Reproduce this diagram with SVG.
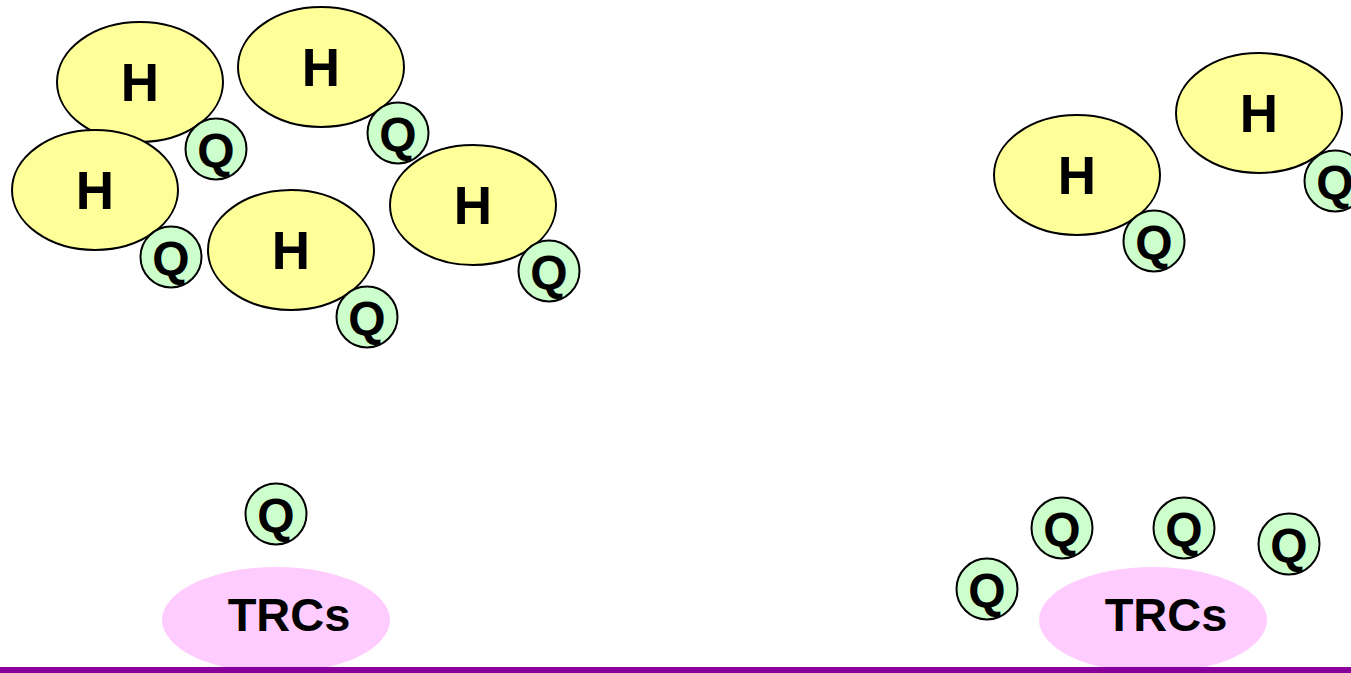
<svg xmlns="http://www.w3.org/2000/svg" width="1351" height="673" viewBox="0 0 1351 673">
<style>
.h{fill:#FFFF99;stroke:#000;stroke-width:2}
.q{fill:#CCFFCC;stroke:#000;stroke-width:2}
.t{fill:#FFCCFF;stroke:none}
.ht{font-family:"Liberation Sans",Arial,sans-serif;font-weight:bold;font-size:53px;text-anchor:middle;fill:#000}
.qt{font-family:"Liberation Sans",Arial,sans-serif;font-weight:bold;font-size:48px;text-anchor:middle;fill:#000}
.tt{font-family:"Liberation Sans",Arial,sans-serif;font-weight:bold;font-size:47px;text-anchor:middle;fill:#000}
</style>
<rect width="1351" height="673" fill="#fff"/>
<g id="h1"><ellipse class="h" cx="140" cy="82" rx="83" ry="60"/><text class="ht" x="140" y="101">H</text></g>
<g id="h2"><ellipse class="h" cx="321" cy="67" rx="83" ry="60"/><text class="ht" x="321" y="86">H</text></g>
<g id="h3"><ellipse class="h" cx="95" cy="190" rx="83" ry="60"/><text class="ht" x="95" y="209">H</text></g>
<g id="h4"><ellipse class="h" cx="291" cy="250" rx="83" ry="60"/><text class="ht" x="291" y="269">H</text></g>
<g id="h5"><ellipse class="h" cx="473" cy="205" rx="83" ry="60"/><text class="ht" x="473" y="224">H</text></g>
<g id="q1"><circle class="q" cx="216" cy="149" r="30.5"/><text class="qt" x="216" y="167">Q</text></g>
<g id="q2"><circle class="q" cx="398" cy="133" r="30.5"/><text class="qt" x="398" y="151">Q</text></g>
<g id="q3"><circle class="q" cx="171" cy="257" r="30.5"/><text class="qt" x="171" y="275">Q</text></g>
<g id="q4"><circle class="q" cx="367" cy="317" r="30.5"/><text class="qt" x="367" y="335">Q</text></g>
<g id="q5"><circle class="q" cx="549" cy="271" r="30.5"/><text class="qt" x="549" y="289">Q</text></g>
<g id="q6"><circle class="q" cx="276" cy="514" r="30.5"/><text class="qt" x="276" y="532">Q</text></g>
<g id="trc1"><ellipse class="t" cx="276" cy="620" rx="114" ry="53"/><text class="tt" x="289" y="631">TRCs</text></g>
<g id="h6"><ellipse class="h" cx="1077" cy="175" rx="83" ry="60"/><text class="ht" x="1077" y="194">H</text></g>
<g id="h7"><ellipse class="h" cx="1259" cy="113" rx="83" ry="60"/><text class="ht" x="1259" y="132">H</text></g>
<g id="q7"><circle class="q" cx="1154" cy="241" r="30.5"/><text class="qt" x="1154" y="259">Q</text></g>
<g id="q8"><circle class="q" cx="1335" cy="181" r="30.5"/><text class="qt" x="1335" y="199">Q</text></g>
<g id="q9"><circle class="q" cx="987" cy="589" r="30.5"/><text class="qt" x="987" y="607">Q</text></g>
<g id="q10"><circle class="q" cx="1062" cy="528" r="30.5"/><text class="qt" x="1062" y="546">Q</text></g>
<g id="q11"><circle class="q" cx="1184" cy="528" r="30.5"/><text class="qt" x="1184" y="546">Q</text></g>
<g id="q12"><circle class="q" cx="1289" cy="544" r="30.5"/><text class="qt" x="1289" y="562">Q</text></g>
<g id="trc2"><ellipse class="t" cx="1153" cy="620" rx="114" ry="53"/><text class="tt" x="1166" y="631">TRCs</text></g>
<g id="connectors"></g>
<rect id="membrane" x="0" y="667" width="1351" height="6" fill="#880099"/>
</svg>
